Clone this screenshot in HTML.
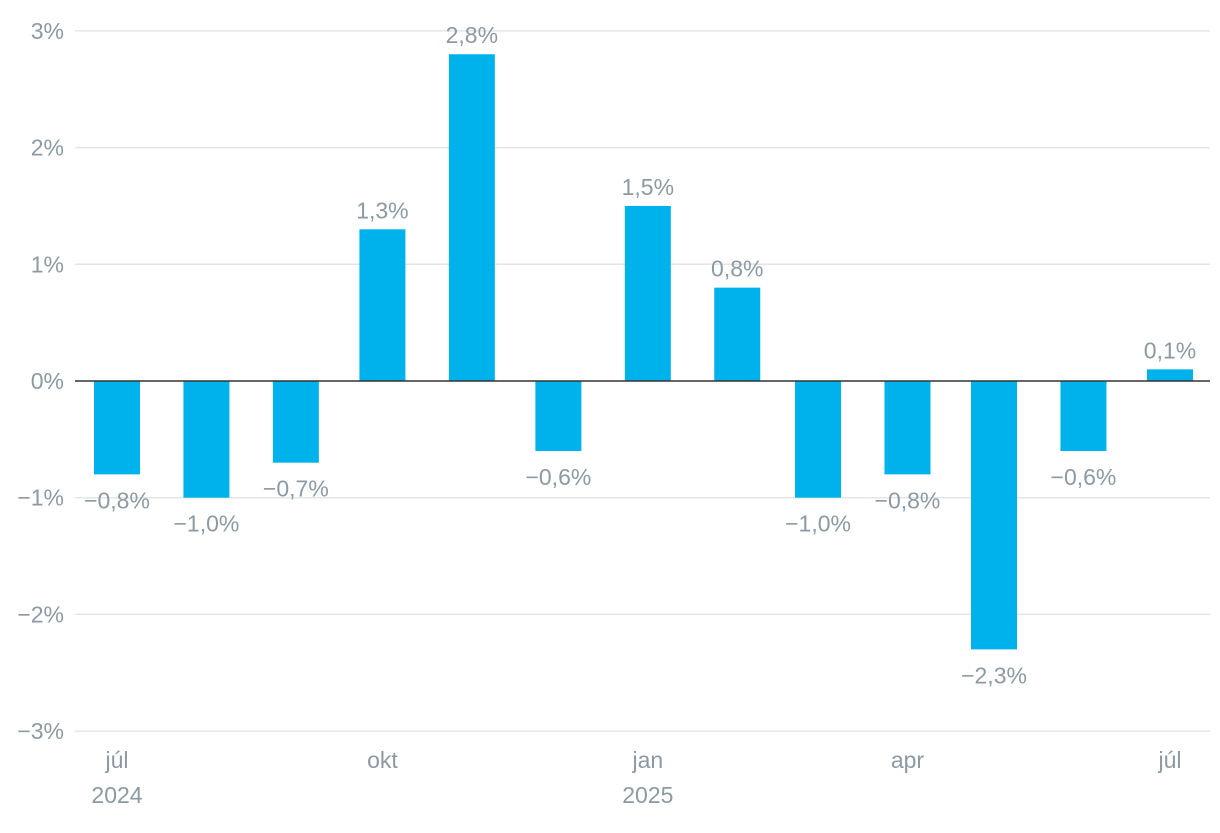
<!DOCTYPE html>
<html><head><meta charset="utf-8"><style>
body{margin:0;background:#fff;}
svg text{font-family:"Liberation Sans",sans-serif;fill:#8c9aa3;font-size:23px;}
</style></head><body>
<svg id="chart" width="1220" height="828" xmlns="http://www.w3.org/2000/svg"></svg>
<script>
const months = ["2024-07-01","2024-08-01","2024-09-01","2024-10-01","2024-11-01","2024-12-01","2025-01-01","2025-02-01","2025-03-01","2025-04-01","2025-05-01","2025-06-01","2025-07-01"];
const values = [-0.8,-1.0,-0.7,1.3,2.8,-0.6,1.5,0.8,-1.0,-0.8,-2.3,-0.6,0.1];
const yTicks = [3,2,1,0,-1,-2,-3];
const xTickDates = ["2024-07-01","2024-10-01","2025-01-01","2025-04-01","2025-07-01"];
const xTickLabels = [["júl","2024"],["okt",""],["jan","2025"],["apr",""],["júl",""]];

const svg = document.getElementById('chart');
const NS = "http://www.w3.org/2000/svg";
const t0 = Date.UTC(2024,6,1), t1 = Date.UTC(2025,6,1);
function x(d){const t=Date.parse(d+"T00:00:00Z");return 117+(t-t0)/(t1-t0)*(1170-117);}
function y(v){return 381 - v*116.7;}
function el(tag, attrs){const e=document.createElementNS(NS,tag);for(const k in attrs)e.setAttribute(k,attrs[k]);svg.appendChild(e);return e;}
function fmt(v){return (v<0?"−":"")+Math.abs(v).toFixed(1).replace(".",",")+"%";}

yTicks.forEach(v=>{
  if(v!==0){
    const g=el('line',{x1:75,x2:1210,y1:y(v),y2:y(v),stroke:'#e3e6e8','stroke-width':1.5});
    
    
  }
  const t=el('text',{x:64,y:y(v)+8,'text-anchor':'end'});
  t.textContent=(v<0?"−":"")+Math.abs(v)+"%";
  
  
});

values.forEach((v,i)=>{
  const cx=x(months[i]), w=46;
  const top=Math.min(y(v),y(0)), h=Math.abs(y(v)-y(0));
  const r=el('rect',{x:cx-w/2,y:top,width:w,height:h,fill:'#00b2ec'});
  
  
  const t=el('text',{x:cx,y:v>=0?y(v)-11:y(v)+34,'text-anchor':'middle'});
  t.textContent=fmt(v);
  
  
});

const zl=el('line',{x1:75,x2:1210,y1:y(0),y2:y(0),stroke:'#333','stroke-width':1.5});



xTickDates.forEach((d,i)=>{
  const t=el('text',{x:x(d),y:768,'text-anchor':'middle'});
  t.textContent=xTickLabels[i][0];
  
  
  if(xTickLabels[i][1]){
    const t2=el('text',{x:x(d),y:803,'text-anchor':'middle'});
    t2.textContent=xTickLabels[i][1];
    
    
  }
});
</script>
</body></html>
